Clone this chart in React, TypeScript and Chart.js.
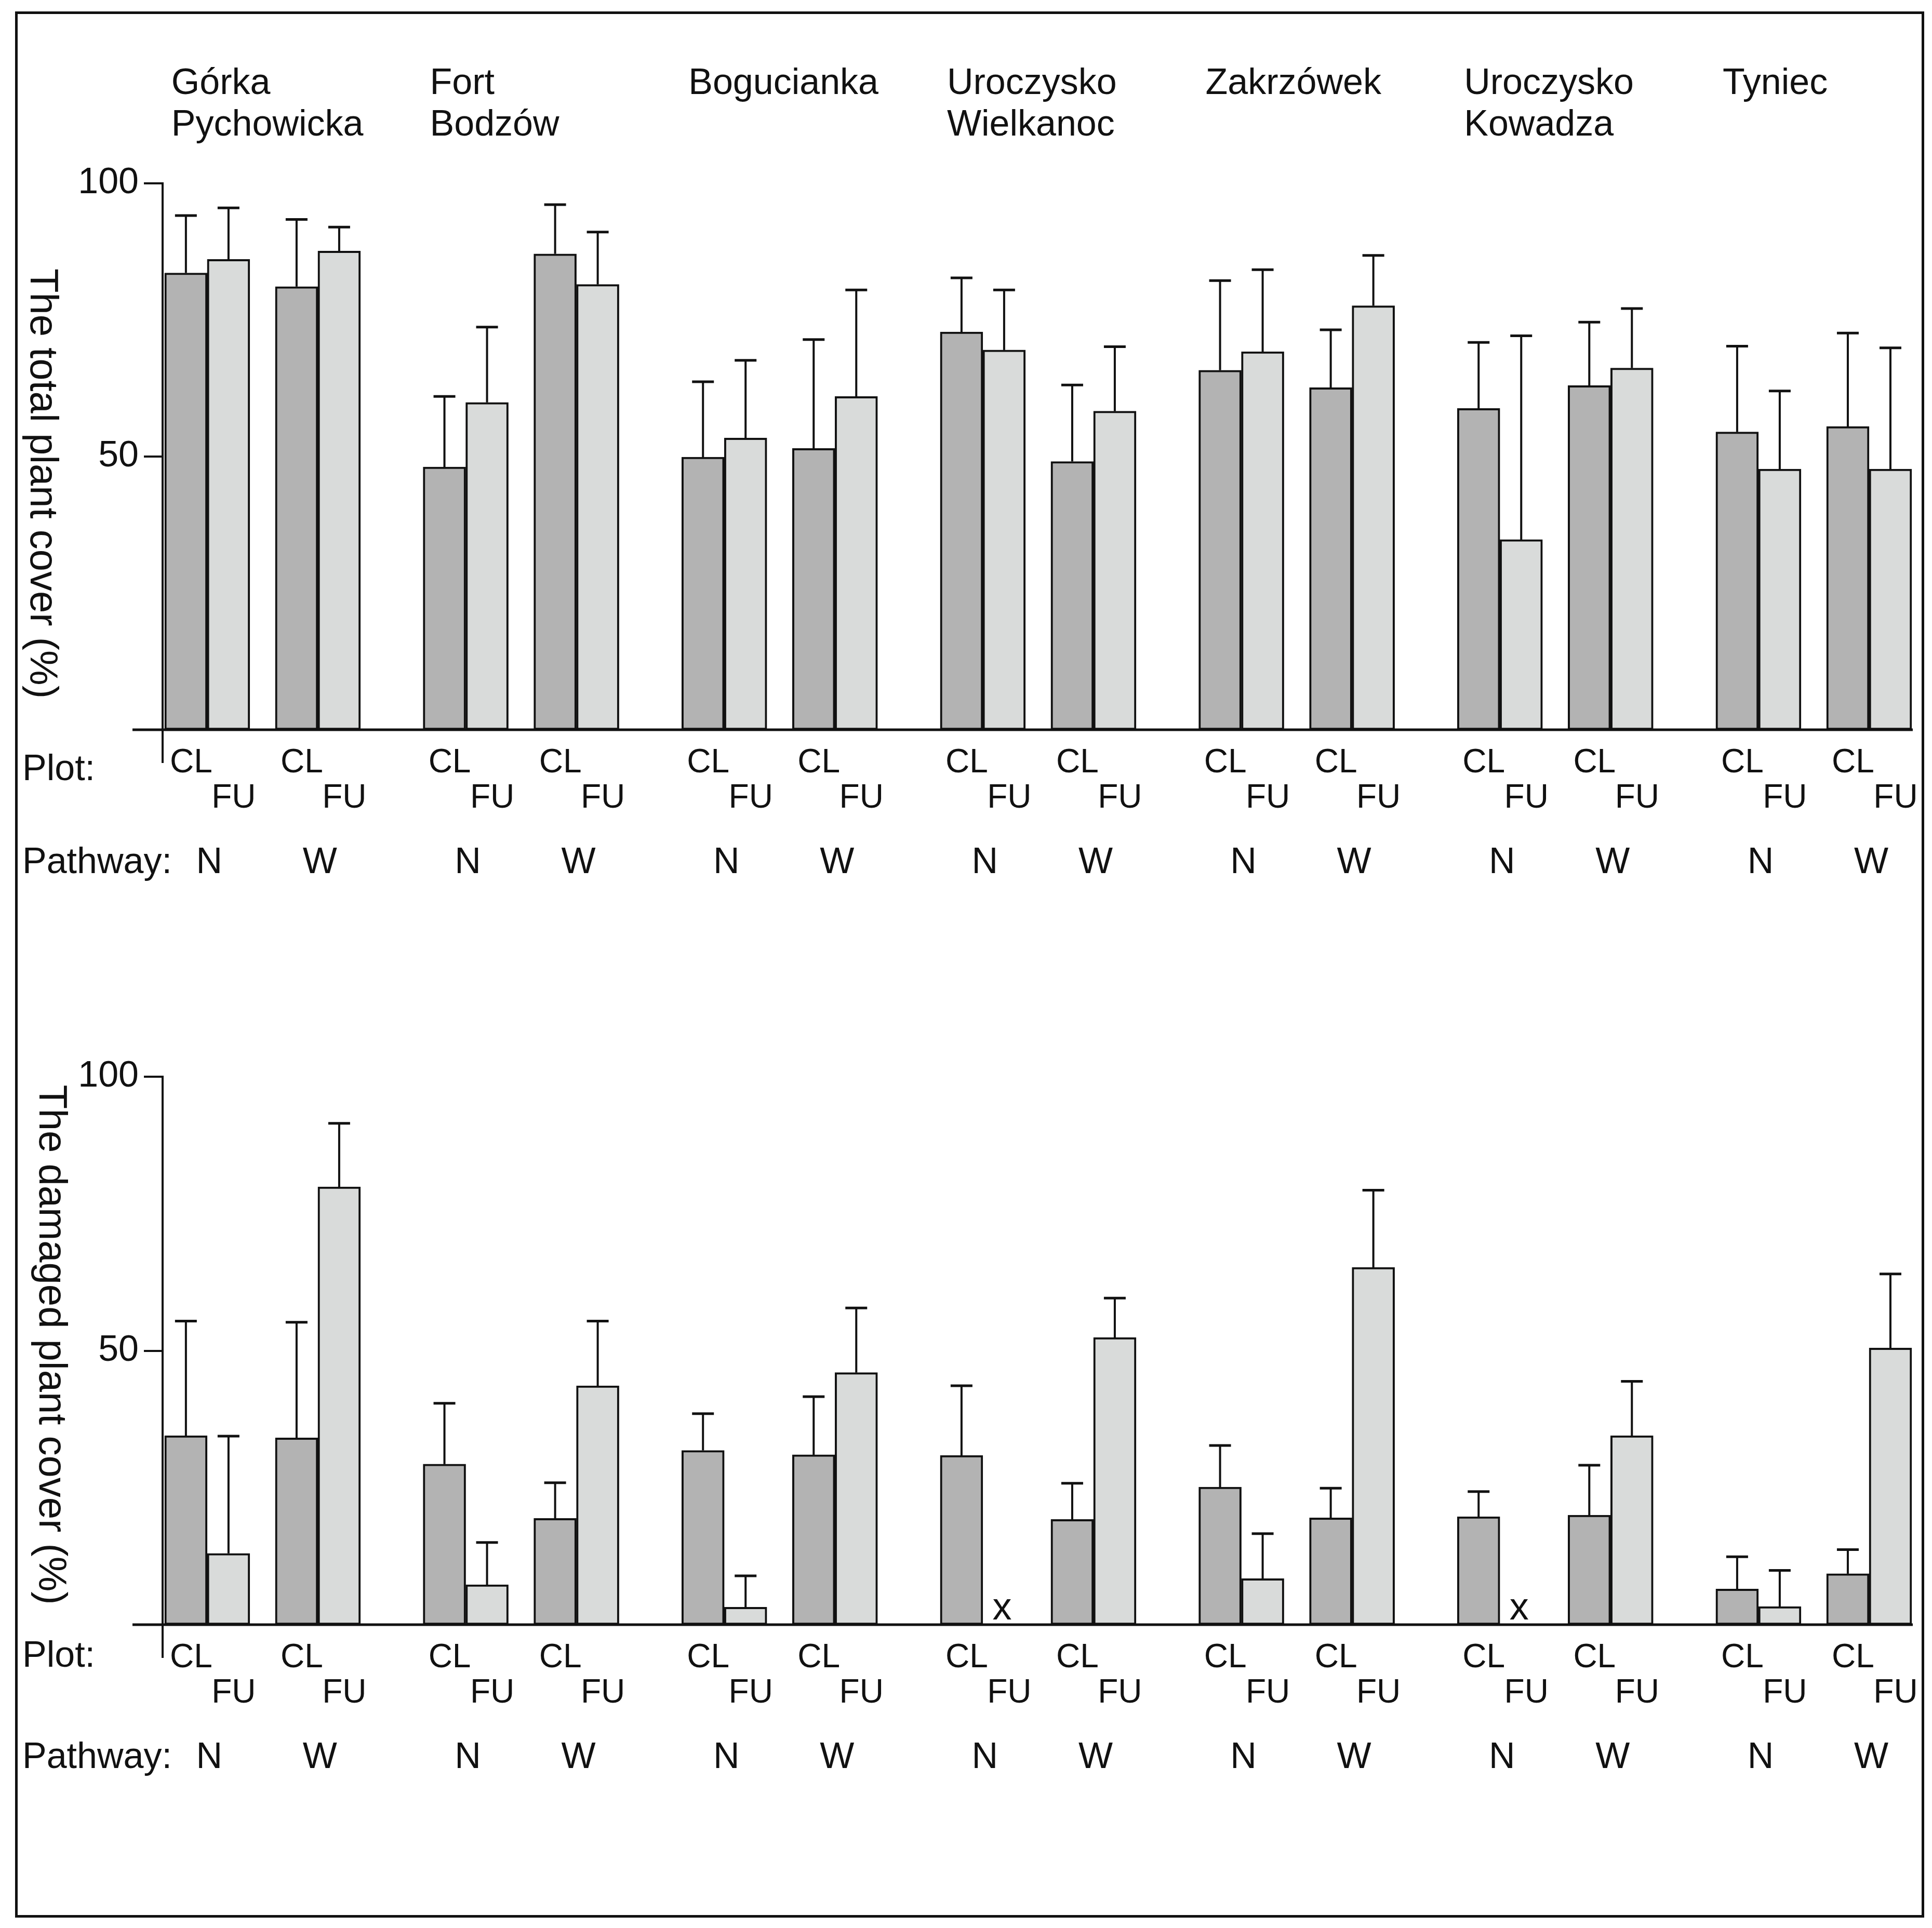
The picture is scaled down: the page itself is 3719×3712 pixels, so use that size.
import React, { useEffect, useRef } from "react";
import { Chart, registerables } from "chart.js";

Chart.register(...registerables);

// ---------------- data ----------------
const SITES: string[][] = [
  ["Górka", "Pychowicka"],
  ["Fort", "Bodzów"],
  ["Bogucianka"],
  ["Uroczysko", "Wielkanoc"],
  ["Zakrzówek"],
  ["Uroczysko", "Kowadza"],
  ["Tyniec"],
];
const PATHWAYS = ["N", "W"];
const PLOTS = ["CL", "FU"];
const Y_TICKS = [50, 100];
const ROW_LABELS = ["Plot:", "Pathway:"];
const MISSING_MARK = "x";

// order: for each site -> pathway N, pathway W
const TOTAL_CL = [83.6, 81.1, 48.1, 87.1, 49.9, 51.5, 72.8, 49.1, 65.8, 62.6, 58.8, 63.0, 54.5, 55.5];
const TOTAL_CL_ERR = [10.5, 12.3, 12.9, 9.0, 13.8, 19.9, 9.9, 14.0, 16.4, 10.6, 12.1, 11.6, 15.7, 17.1];
const TOTAL_FU = [86.1, 87.6, 59.9, 81.5, 53.4, 61.0, 69.5, 58.3, 69.2, 77.6, 34.8, 66.2, 47.7, 47.7];
const TOTAL_FU_ERR = [9.4, 4.4, 13.8, 9.6, 14.2, 19.5, 11.0, 11.8, 15.0, 9.2, 37.3, 10.9, 14.3, 22.2];

const DAMAGED_CL = [34.5, 34.1, 29.3, 19.4, 31.8, 31.0, 30.9, 19.2, 25.1, 19.5, 19.7, 20.0, 6.5, 9.3];
const DAMAGED_CL_ERR = [20.9, 21.1, 11.1, 6.5, 6.7, 10.6, 12.7, 6.6, 7.6, 5.4, 4.6, 9.1, 5.9, 4.4];
const DAMAGED_FU: (number | null)[] = [13.0, 79.9, 7.3, 43.6, 3.2, 46.0, null, 52.4, 8.4, 65.2, null, 34.5, 3.3, 50.5];
const DAMAGED_FU_ERR: (number | null)[] = [21.4, 11.6, 7.7, 11.8, 5.7, 11.8, null, 7.2, 8.2, 14.1, null, 9.9, 6.6, 13.5];

const TITLE_TOP = "The total plant cover (%)";
const TITLE_BOTTOM = "The damaged plant cover (%)";

// ---------------- layout / style ----------------
const W = 3719;
const H = 3712;
const FONT = "'Liberation Sans', Arial, Helvetica, sans-serif";
const INK = "#111111";
const DARK = "#b3b3b3";
const LIGHT = "#d9dbda";
const SITE_STEP = 2.336;
const X_MIN = -0.403;
const X_MAX = 15.448;
const BAR_W = 82;

const groupX = (i: number) => Math.floor(i / 2) * SITE_STEP + (i % 2);

type PanelCfg = {
  top: number;
  height: number;
  padTop: number;
  padBottom: number;
  cl: (number | null)[];
  clErr: (number | null)[];
  fu: (number | null)[];
  fuErr: (number | null)[];
  title: string;
  titleX: number;
  titleY: number;
  plotDy: number;
  headers: boolean;
};

const PANELS: PanelCfg[] = [
  {
    top: 0,
    height: 1850,
    padTop: 353,
    padBottom: 445,
    cl: TOTAL_CL,
    clErr: TOTAL_CL_ERR,
    fu: TOTAL_FU,
    fuErr: TOTAL_FU_ERR,
    title: TITLE_TOP,
    titleX: 80,
    titleY: 931,
    plotDy: 78,
    headers: true,
  },
  {
    top: 1850,
    height: 1862,
    padTop: 223,
    padBottom: 584,
    cl: DAMAGED_CL,
    clErr: DAMAGED_CL_ERR,
    fu: DAMAGED_FU,
    fuErr: DAMAGED_FU_ERR,
    title: TITLE_BOTTOM,
    titleX: 97,
    titleY: 739,
    plotDy: 62,
    headers: false,
  },
];

function makePlugin(cfg: PanelCfg) {
  return {
    id: "annotations",
    afterDatasetsDraw(chart: any) {
      const { ctx, chartArea: ca } = chart;
      const xs = chart.scales.x;
      const ys = chart.scales.y;
      const base = ys.getPixelForValue(0);
      ctx.save();
      ctx.strokeStyle = INK;
      ctx.fillStyle = INK;
      ctx.lineCap = "butt";

      // error bars (upper whisker only)
      const series = [
        { vals: cfg.cl, errs: cfg.clErr, dx: -BAR_W / 2 },
        { vals: cfg.fu, errs: cfg.fuErr, dx: BAR_W / 2 },
      ];
      series.forEach((s) => {
        s.vals.forEach((v, i) => {
          const e = s.errs[i];
          if (v == null || e == null) return;
          const cx = xs.getPixelForValue(groupX(i)) + s.dx;
          const y0 = ys.getPixelForValue(v);
          const y1 = ys.getPixelForValue(v + e);
          ctx.lineWidth = 4;
          ctx.beginPath();
          ctx.moveTo(cx, y0);
          ctx.lineTo(cx, y1);
          ctx.stroke();
          ctx.lineWidth = 5;
          ctx.beginPath();
          ctx.moveTo(cx - 21, y1);
          ctx.lineTo(cx + 21, y1);
          ctx.stroke();
        });
      });

      // baseline and axis extension
      ctx.lineWidth = 5;
      ctx.beginPath();
      ctx.moveTo(ca.left - 58, base);
      ctx.lineTo(ca.right - 8, base);
      ctx.stroke();
      ctx.lineWidth = 4;
      ctx.beginPath();
      ctx.moveTo(ca.left, base - 2);
      ctx.lineTo(ca.left, base + 64);
      ctx.stroke();

      // row labels
      ctx.textBaseline = "middle";
      ctx.textAlign = "left";
      ctx.font = `70px ${FONT}`;
      ctx.fillText(ROW_LABELS[0], 43, base + cfg.plotDy);
      ctx.fillText(ROW_LABELS[1], 43, base + 257);

      // plot / pathway labels under bars
      ctx.textAlign = "center";
      cfg.cl.forEach((_, i) => {
        const cx = xs.getPixelForValue(groupX(i));
        ctx.font = `64px ${FONT}`;
        ctx.fillText(PLOTS[0], cx - BAR_W / 2 + 10, base + 64);
        ctx.fillText(PLOTS[1], cx + BAR_W / 2 + 10, base + 132);
        ctx.font = `70px ${FONT}`;
        ctx.fillText(PATHWAYS[i % 2], cx + 4, base + 257);
        if (cfg.fu[i] == null) {
          ctx.font = `74px ${FONT}`;
          ctx.fillText(MISSING_MARK, cx + BAR_W / 2 - 4, base - 30);
        }
      });

      // site headers
      if (cfg.headers) {
        ctx.textAlign = "left";
        ctx.font = `70px ${FONT}`;
        SITES.forEach((lines, s) => {
          const left = xs.getPixelForValue(groupX(2 * s)) - BAR_W + 13;
          lines.forEach((t, k) => ctx.fillText(t, left, ca.top - 191 + k * 80));
        });
      }

      // rotated y-axis title (reads top to bottom)
      ctx.save();
      ctx.translate(cfg.titleX, cfg.titleY);
      ctx.rotate(Math.PI / 2);
      ctx.textAlign = "center";
      ctx.font = `76px ${FONT}`;
      ctx.fillText(cfg.title, 0, 0);
      ctx.restore();

      ctx.restore();
    },
  };
}

function Panel({ cfg }: { cfg: PanelCfg }) {
  const ref = useRef<HTMLCanvasElement>(null);
  useEffect(() => {
    const canvas = ref.current;
    if (!canvas) return;
    const chart = new Chart(canvas, {
      type: "bar",
      data: {
        datasets: [
          {
            label: PLOTS[0],
            data: cfg.cl.map((v, i) => ({ x: groupX(i), y: v })) as any,
            backgroundColor: DARK,
          },
          {
            label: PLOTS[1],
            data: cfg.fu.map((v, i) => ({ x: groupX(i), y: v })) as any,
            backgroundColor: LIGHT,
          },
        ],
      },
      options: {
        responsive: false,
        animation: false,
        devicePixelRatio: 1,
        events: [],
        layout: {
          padding: { left: 63, right: 29, top: cfg.padTop, bottom: cfg.padBottom },
        },
        plugins: {
          legend: { display: false },
          tooltip: { enabled: false },
        },
        datasets: {
          bar: {
            barThickness: BAR_W,
            borderWidth: 4,
            borderColor: INK,
            borderSkipped: false,
          },
        },
        scales: {
          x: {
            type: "linear",
            min: X_MIN,
            max: X_MAX,
            offset: false,
            display: false,
          },
          y: {
            type: "linear",
            min: 0,
            max: 100,
            afterBuildTicks: (s: any) => {
              s.ticks = Y_TICKS.map((v) => ({ value: v }));
            },
            afterFit: (s: any) => {
              s.width = 250;
            },
            border: { display: true, color: INK, width: 4 },
            grid: {
              drawOnChartArea: false,
              drawTicks: true,
              tickLength: 36,
              color: INK,
              lineWidth: 4,
            },
            ticks: {
              font: { family: FONT, size: 70 },
              color: INK,
              padding: 10,
            },
          },
        },
      } as any,
      plugins: [makePlugin(cfg)],
    });
    return () => chart.destroy();
  }, [cfg]);
  return (
    <canvas
      ref={ref}
      width={W}
      height={cfg.height}
      style={{ position: "absolute", left: 0, top: cfg.top, width: W, height: cfg.height }}
    />
  );
}

export default function App() {
  return (
    <div
      style={{
        position: "absolute",
        left: 0,
        top: 0,
        width: W,
        height: H,
        background: "#ffffff",
        overflow: "hidden",
      }}
    >
      {PANELS.map((p, i) => (
        <Panel key={i} cfg={p} />
      ))}
      <div
        style={{
          position: "absolute",
          left: 29,
          top: 22,
          width: 3675,
          height: 3670,
          border: `5px solid ${INK}`,
          boxSizing: "border-box",
          pointerEvents: "none",
        }}
      />
    </div>
  );
}
